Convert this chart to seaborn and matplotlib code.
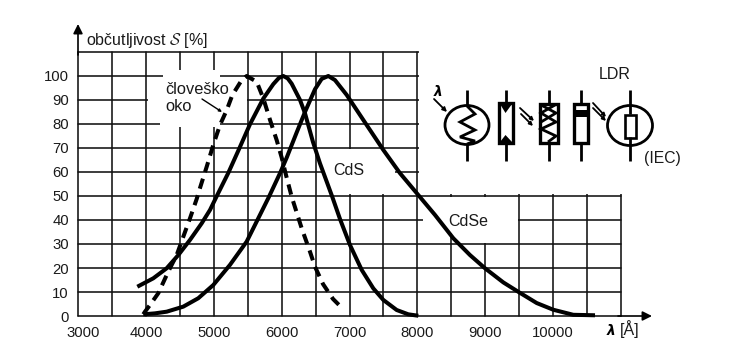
import matplotlib
matplotlib.use("Agg")
import matplotlib.pyplot as plt
import pandas as pd
import seaborn as sns
from matplotlib.patches import Ellipse, Polygon, Rectangle
from matplotlib.transforms import ScaledTranslation

# curves (wavelength in angstrom, sensitivity in %)
eye_x = [3962, 3987, 4061, 4183, 4330, 4454, 4551, 4650, 4749, 4797, 4896, 4993, 5092, 5191, 5273,
         5412, 5485, 5633, 5730, 5829, 5927, 6001, 6064, 6148, 6296, 6418, 6492, 6610, 6757, 6870]
eye_y = [0.7, 1.8, 4.6, 9.5, 18.5, 25.4, 33, 40.7, 48.8, 53.3, 62.2, 71.3, 79.6, 85.8, 92,
         98.3, 100, 97.6, 90.7, 81.7, 73.3, 66, 58.8, 49.7, 36.5, 26.8, 20.5, 13.3, 7.1, 3.9]
cds_x = [3874, 4109, 4307, 4478, 4650, 4822, 4945, 5052, 5214, 5362, 5534, 5730, 5877, 5960, 6025, 6090, 6148,
         6271, 6344, 6462, 6565, 6664, 6747, 6860, 7007, 7180, 7351, 7498, 7695, 7866, 8014]
cds_y = [12.2, 15.7, 19.9, 25.4, 31.7, 38.6, 44.2, 50.4, 59.6, 68.9, 79.9, 90.6, 96.6, 99.2, 100, 99, 96.8,
         90, 84.5, 72.5, 63.6, 56, 49.6, 40.4, 29.6, 19.2, 11.5, 6.7, 2.5, 0.7, 0.1]
cdse_x = [3962, 4134, 4307, 4551, 4772, 4993, 5239, 5485, 5656, 5814, 5976, 6075, 6222, 6344, 6492,
          6590, 6688, 6786, 6959, 7203, 7498, 7744, 8014, 8260, 8529, 8775, 8996, 9266, 9497, 9758,
          10003, 10297, 10617]
cdse_y = [0.7, 1.1, 1.8, 3.9, 7.4, 12.9, 21.3, 31, 40.7, 49.7, 59.5, 66, 76.5, 85, 94.5,
          98.8, 100, 98.3, 92.1, 81.7, 69.2, 59.5, 50.4, 42.1, 32.4, 25.4, 19.9, 14, 9.9, 5.4,
          2.6, 0.5, 0.3]

x_grid = list(range(3000, 11001, 500))
x_labels = ["3000", "", "4000", "", "5000", "", "6000", "", "7000", "", "8000", "", "9000", "", "10000", "", ""]
y_grid = list(range(0, 111, 10))
y_labels = ["0", "10", "20", "30", "40", "50", "60", "70", "80", "90", "100", ""]

df = pd.concat([
    pd.DataFrame({"wl": eye_x, "s": eye_y, "curve": "oko"}),
    pd.DataFrame({"wl": cds_x, "s": cds_y, "curve": "CdS"}),
    pd.DataFrame({"wl": cdse_x, "s": cdse_y, "curve": "CdSe"}),
])

sns.set_theme(style="white")
plt.rcParams["font.family"] = ["Liberation Sans", "DejaVu Sans"]
plt.rcParams["mathtext.fontset"] = "cm"

W, H = 738, 356
fig = plt.figure(figsize=(W / 100, H / 100), dpi=100)
ax = fig.add_axes([78 / W, 1 - 316 / H, 543 / W, 264 / H])
ax.set_xlim(3000, 11000)
ax.set_ylim(0, 110)

sns.lineplot(data=df, x="wl", y="s", hue="curve", style="curve", sort=False, estimator=None,
             palette={"oko": "black", "CdS": "black", "CdSe": "black"},
             dashes={"oko": (2.6, 1.7), "CdS": "", "CdSe": ""},
             linewidth=2.9, legend=False, ax=ax, zorder=3, clip_on=False)
for line in ax.lines:
    line.set_solid_capstyle("butt")
    line.set_solid_joinstyle("round")

ax.set_xticks(x_grid, x_labels)
ax.set_yticks(y_grid, y_labels)
ax.tick_params(length=0, labelsize=10.7, colors="#1a1a1a")
ax.tick_params(axis="x", pad=7)
ax.tick_params(axis="y", pad=6.5)
ax.set_xlabel("")
ax.set_ylabel("")
ax.grid(True, color="#111111", linewidth=1.15)
ax.set_axisbelow(True)
for gl in ax.get_xgridlines() + ax.get_ygridlines():
    gl.set_clip_on(False)
for s in ax.spines.values():
    s.set_visible(False)

# the 3000 label sits a bit right of its line
ax.get_xticklabels()[0].set_transform(
    ax.get_xticklabels()[0].get_transform() + ScaledTranslation(5 / 100, 0, fig.dpi_scale_trans))


def px_x(p):
    return 3000 + (p - 78) / 543 * 8000


def px_y(p):
    return (316 - p) / 264 * 110


def mask(x0, y0, x1, y1):
    # white-out of the grid behind labels, given in picture pixels
    ax.add_patch(Rectangle((px_x(x0), px_y(y1)), px_x(x1) - px_x(x0), px_y(y0) - px_y(y1),
                           fc="white", ec="none", zorder=1, clip_on=False))


mask(419, 45, 630, 194.5)  # no grid top right
mask(163, 70, 220, 127)    # clovesko oko
mask(148, 98, 246.5, 102)
mask(160, 120, 218, 127)
mask(325, 149.5, 395, 194)  # CdS
mask(351, 149.5, 383, 194)
mask(423, 197, 518, 233)    # CdSe
mask(460, 233, 518, 243)

# overlay in picture pixels for labels and the symbols
ov = fig.add_axes([0, 0, 1, 1], facecolor="none")
ov.set_xlim(0, W)
ov.set_ylim(H, 0)
ov.axis("off")


def arrow(x0, y0, x1, y1, lw=1.2, scale=7):
    ov.annotate("", xy=(x1, y1), xytext=(x0, y0),
                arrowprops=dict(arrowstyle="-|>", color="black", lw=lw, mutation_scale=scale,
                                shrinkA=0, shrinkB=0))


def seg(xs, ys, lw=2.0):
    ov.plot(xs, ys, color="black", lw=lw, solid_capstyle="butt", solid_joinstyle="miter")


arrow(78, 55, 78, 24, lw=1.2, scale=14)
arrow(618, 316, 652, 316, lw=1.2, scale=14)
arrow(202, 99, 222, 112, lw=1.0, scale=4)

txt = dict(color="#1a1a1a", va="baseline")
ov.text(86, 45.5, r"občutljivost $\mathcal{S}$ [%]", fontsize=11.5, **txt)
ov.text(165, 94, "človeško", fontsize=11.8, **txt)
ov.text(165, 111, "oko", fontsize=11.8, **txt)
ov.text(333, 175, "CdS", fontsize=11.5, **txt)
ov.text(448, 226, "CdSe", fontsize=11.5, **txt)
ov.text(599, 79, "LDR", fontsize=11.5, **txt)
ov.text(644, 163, "(IEC)", fontsize=11.3, **txt)
lam = dict(family="DejaVu Sans", style="italic", weight="bold", color="black", va="baseline", fontsize=10)
ov.text(607, 335, "λ", **lam)
ov.text(620, 335, "[Å]", fontsize=11.5, **txt)
ov.text(434, 96, "λ", **lam)

# symbol 1: circle with zigzag
ov.add_patch(Ellipse((467, 125), 44, 39, fc="none", ec="black", lw=2.0))
seg([467, 467], [90, 106])
seg([467, 467], [144, 161])
seg([467, 475, 460, 475, 460, 475, 467], [106, 114, 122, 130, 137, 141, 144], lw=2.0)
arrow(434, 99, 447, 112, lw=1.3, scale=6)

# symbol 2: box with two triangles
ov.add_patch(Rectangle((499, 103), 14, 40, fc="none", ec="black", lw=2.4))
seg([505.5, 505.5], [90, 103])
seg([505.5, 505.5], [143, 161])
ov.add_patch(Polygon([[500, 104], [512, 104], [505.5, 113]], fc="black", ec="none"))
ov.add_patch(Polygon([[500, 142], [512, 142], [505.5, 135]], fc="black", ec="none"))
arrow(520, 108, 534, 121, lw=1.3, scale=5)
arrow(521, 114, 533, 126, lw=1.3, scale=5)

# symbol 3: box with zigzag
ov.add_patch(Rectangle((539.5, 103.5), 18, 39.5, fc="none", ec="black", lw=2.4))
seg([548.5, 548.5], [90, 103])
seg([548.5, 548.5], [143, 161])
seg([555, 541, 556, 541, 556, 548], [105, 113, 122, 129, 136, 142], lw=2.0)
seg([541, 556, 541], [105, 113, 122], lw=2.0)

# symbol 4: box with band
ov.add_patch(Rectangle((574, 103.5), 13.5, 39.5, fc="none", ec="black", lw=2.4))
ov.add_patch(Rectangle((574, 110), 13.5, 7, fc="black", ec="none"))
seg([580.5, 580.5], [90, 103])
seg([580.5, 580.5], [143, 161])
arrow(593, 103, 606, 117, lw=1.3, scale=5)
arrow(593, 108, 606, 121, lw=1.3, scale=5)

# symbol 5: LDR in circle
ov.add_patch(Ellipse((630, 125.5), 45, 40, fc="none", ec="black", lw=2.0))
ov.add_patch(Rectangle((625, 114.5), 11, 23, fc="none", ec="black", lw=1.9))
seg([630, 630], [90, 114])
seg([630, 630], [137, 161])

fig.savefig("out.png", dpi=100)
